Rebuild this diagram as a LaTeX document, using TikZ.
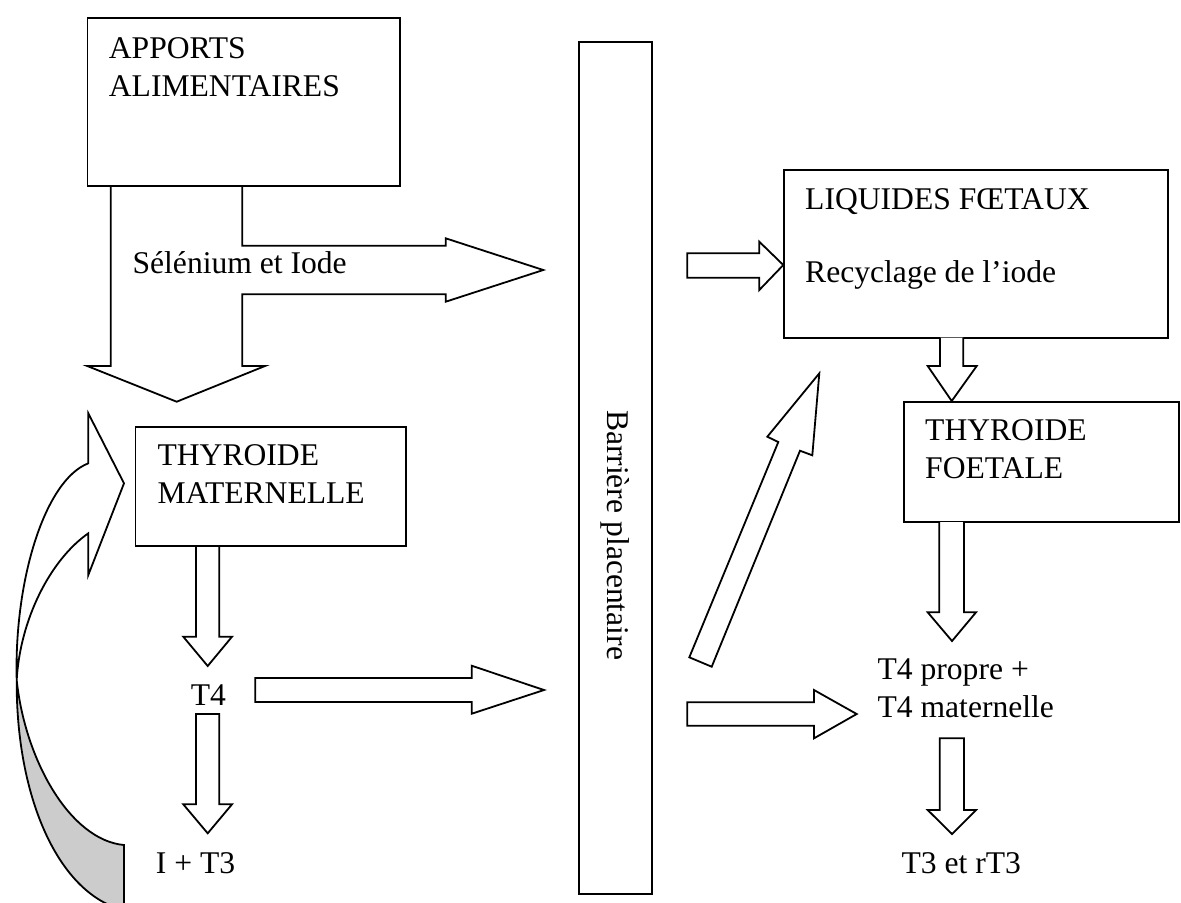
\documentclass[tikz,border=0pt]{standalone}
\usepackage{fontspec}
\setmainfont{Liberation Serif}
\usetikzlibrary{fit}
\begin{document}
\begin{tikzpicture}[x=0.5pt,y=-0.5pt,
  line width=0.9pt, line join=miter,
  box/.style={draw, inner sep=0pt, fit={#1}},
  lbl/.style={inner sep=0pt, anchor=base west, align=left,
    font=\fontsize{15.8pt}{18.75pt}\selectfont},
  blk/.style={draw, fill=white}]
\useasboundingbox (0,0) rectangle (1181,902);

% boxes
\node[box={(87.5,18) (400,186)}] (apports) {};
\node[box={(579.3,41.7) (651.7,894)}] (barriere) {};
\node[box={(784,170) (1168.3,337.7)}] (liquides) {};
\node[box={(135.5,427) (406,546)}] (thymat) {};
\node[box={(904,401.7) (1179,522)}] (thyfoet) {};

% texts (multi-line nodes: base = baseline of last line)
\node[lbl] (tApports) at (108,96) {APPORTS\\ALIMENTAIRES};
\node[lbl] (tSel) at (131.7,273) {Sélénium et Iode};
\node[lbl] (tLiq) at (804.3,209) {LIQUIDES FŒTAUX};
\node[lbl] (tRec) at (804.3,282.7) {Recyclage de l’iode};
\node[lbl] (tMat) at (156.7,503.3) {THYROIDE\\MATERNELLE};
\node[lbl] (tFoet) at (924.3,478) {THYROIDE\\FOETALE};
\node[lbl] (tT4) at (190,705.7) {T4};
\node[lbl] (tIT3) at (155,873.3) {I + T3};
\node[lbl] (tT4p) at (876.7,717.3) {T4 propre +\\T4 maternelle};
\node[lbl] (tT3) at (900.7,873.3) {T3 et rT3};
\node[inner sep=0pt, rotate=-90, font=\fontsize{15.8pt}{18.75pt}\selectfont]
  (tBar) at (barriere.center |- 0,535) {Barrière placentaire};

% fork arrow from apports
\draw (110.7,186) -- (110.7,366) -- (87.3,366) -- (176.7,401.7) -- (265,366)
  -- (242.3,366) -- (242.3,294.3) -- (445.7,294.3) -- (445.7,301.7)
  -- (543.3,270) -- (445.7,238.3) -- (445.7,245.7) -- (242.3,245.7) -- (242.3,186);

% vertical block arrows
\draw[blk] (196,546) -- (196,636.7) -- (183.3,636.7) -- (207.7,666) -- (232,636.7)
  -- (219.3,636.7) -- (219.3,546) -- cycle;
\draw[blk] (196,714) -- (196,804.3) -- (183.3,804.3) -- (207.7,833.3) -- (232,804.3)
  -- (219.3,804.3) -- (219.3,714) -- cycle;
\draw[blk] (940,337.7) -- (940,366) -- (927.7,366) -- (951.7,401) -- (976.7,366)
  -- (963.3,366) -- (963.3,337.7);
\draw[blk] (939.3,522) -- (939.3,612.3) -- (927.7,612.3) -- (952,641) -- (976,612.3)
  -- (964,612.3) -- (964,522);
\draw[blk] (939.7,738.3) -- (939.7,810) -- (927.7,810) -- (952,834) -- (976,810)
  -- (964,810) -- (964,738.3) -- cycle;

% horizontal block arrows
\draw[blk] (255.3,678) -- (471.7,678) -- (471.7,665.7) -- (544,690) -- (471.7,713.7)
  -- (471.7,702) -- (255.3,702) -- cycle;
\draw[blk] (687.3,702.3) -- (814,702.3) -- (814,690) -- (856.7,714) -- (814,738.3)
  -- (814,725.7) -- (687.3,725.7) -- cycle;
\draw[blk] (687.3,253.3) -- (759.3,253.3) -- (759.3,241.7) -- (783.3,265) -- (759.3,290)
  -- (759.3,277.7) -- (687.3,277.7) -- cycle;

% diagonal arrow
\draw[blk] (689.3,657.3) -- (778.3,442) -- (767.3,436.7) -- (819.3,373.3)
  -- (812.3,455.3) -- (800,450.7) -- (711.7,666.7) -- cycle;

% curved arrow
\draw[fill=black!20] (16.7,680) .. controls (25,760) and (70,840) .. (124,845)
  -- (124,910) .. controls (60,895) and (16,800) .. (16.7,680) -- cycle;
\draw[fill=white] (16.7,680) .. controls (14,580) and (45,480) .. (88.3,463.3)
  -- (88.3,413.3) -- (124,483.3) -- (88.3,575) -- (88.3,533.3)
  .. controls (50,560) and (20,620) .. (16.7,680) -- cycle;
\end{tikzpicture}
\end{document}
